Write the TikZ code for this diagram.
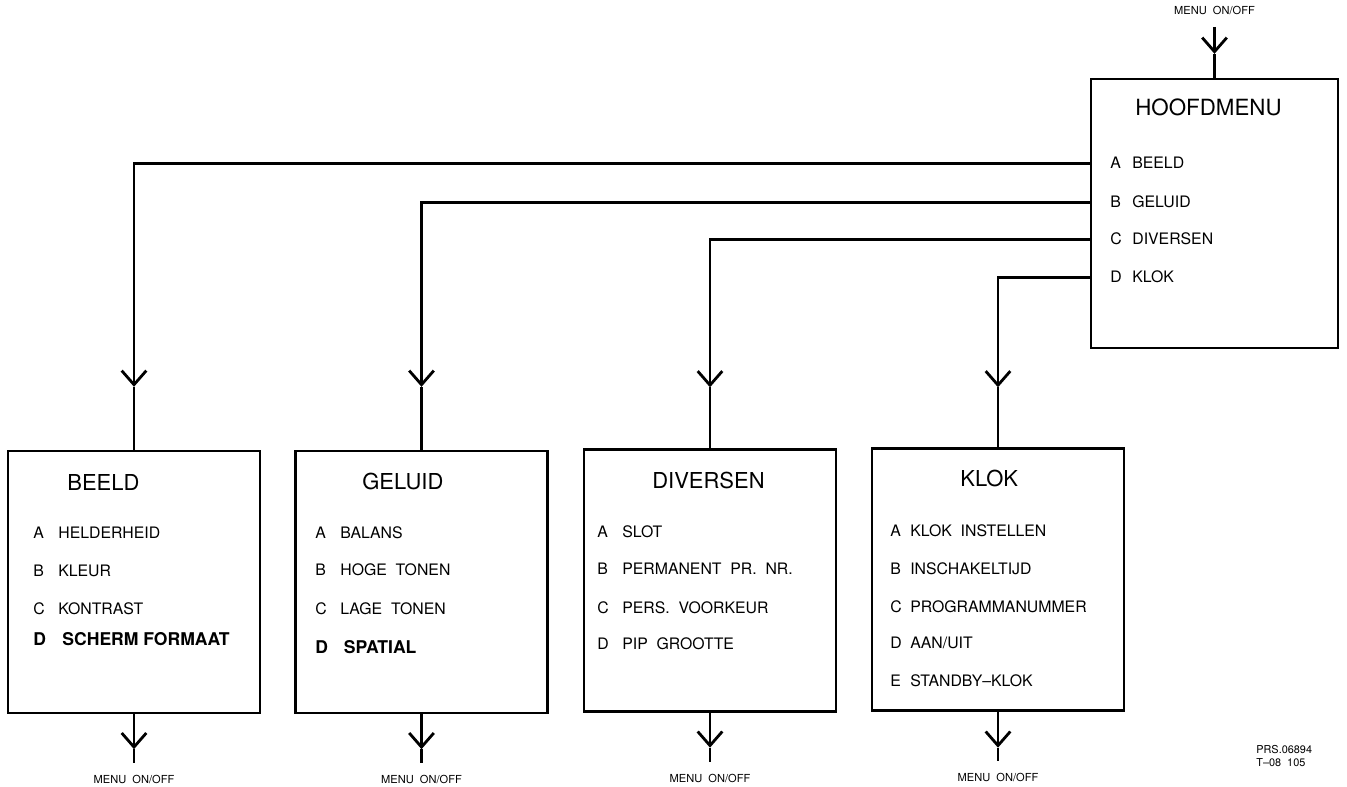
\documentclass[tikz,border=0pt]{standalone}
\usepackage{fontspec}
\setmainfont{TeX Gyre Heros}
\usepackage{tikz}
\usetikzlibrary{positioning, arrows.meta}

\tikzset{
    menubox/.style={draw, line width=1.4pt, minimum width=5.04cm, minimum height=5.24cm, inner sep=0pt},
    link/.style={line width=1.6pt},
    barb/.style={-{Straight Barb[length=8pt, width=14pt]}},
    menutitle/.style={anchor=base west, inner sep=0pt, font=\fontsize{12.5}{14}\selectfont},
    menuitem/.style={anchor=base west, inner sep=0pt, font=\fontsize{9}{11}\selectfont},
    menubold/.style={anchor=base west, inner sep=0pt, font=\fontsize{10}{12}\selectfont\bfseries},
    onoff/.style={inner sep=0pt, font=\fontsize{6.3}{7}\selectfont},
}
\newcommand{\menuopt}[3][0.5cm]{\makebox[#1][l]{#2}#3}

\begin{document}
\begin{tikzpicture}[x=0.02cm, y=-0.02cm]
    \useasboundingbox (0,0) rectangle (1347,787);

    % Hoofdmenu
    \node[menubox, minimum width=4.94cm, minimum height=5.38cm] (hoofd) at (1214.5,213.5) {};
    \node[menutitle, font=\fontsize{12.7}{14}\selectfont] (hoofdT) at (1135,116) {HOOFDMENU};
    \node[menuitem] (hA) at (1110,169) {\menuopt[0.44cm]{A}{BEELD}};
    \node[menuitem] (hB) at (1110,208) {\menuopt[0.44cm]{B}{GELUID}};
    \node[menuitem] (hC) at (1110,245) {\menuopt[0.44cm]{C}{DIVERSEN}};
    \node[menuitem] (hD) at (1110,283) {\menuopt[0.44cm]{D}{KLOK}};

    \node[onoff, above=1.25cm of hoofd] (hoofdOn) {MENU\ \ ON/OFF};
    \coordinate[above=1.02cm of hoofd] (hoofdIn);
    \coordinate[above=0.48cm of hoofd] (hoofdTip);
    \draw[link, barb] (hoofdIn) -- (hoofdTip);
    \draw[link] (hoofdTip) -- (hoofd);

    % Submenu's
    \node[menubox] (beeld) at (134,582) {};
    \node[menutitle] (beeldT) at (67,490.5) {BEELD};
    \node[menuitem] (bA) at (33,539) {\menuopt{A}{HELDERHEID}};
    \node[menuitem] (bB) at (33,577) {\menuopt{B}{KLEUR}};
    \node[menuitem] (bC) at (33,614) {\menuopt{C}{KONTRAST}};
    \node[menubold] (bD) at (33,645) {\menuopt[0.58cm]{D}{SCHERM FORMAAT}};

    \node[menubox] (geluid) at (421.5,582) {};
    \node[menutitle] (geluidT) at (362,490) {GELUID};
    \node[menuitem] (gA) at (315,539) {\menuopt{A}{BALANS}};
    \node[menuitem] (gB) at (315,576) {\menuopt{B}{HOGE\ \ TONEN}};
    \node[menuitem] (gC) at (315,614) {\menuopt{C}{LAGE\ \ TONEN}};
    \node[menubold] (gD) at (315,653) {\menuopt[0.57cm]{D}{SPATIAL}};

    \node[menubox] (diversen) at (710,580.5) {};
    \node[menutitle] (diversenT) at (652,488.5) {DIVERSEN};
    \node[menuitem] (dA) at (597,538) {\menuopt{A}{SLOT}};
    \node[menuitem] (dB) at (597,575) {\menuopt{B}{PERMANENT\ \ PR.\ \ NR.}};
    \node[menuitem] (dC) at (597,613) {\menuopt{C}{PERS.\ \ VOORKEUR}};
    \node[menuitem] (dD) at (597,649) {\menuopt{D}{PIP\ \ GROOTTE}};

    \node[menubox] (klok) at (998,579.5) {};
    \node[menutitle] (klokT) at (960,486.5) {KLOK};
    \node[menuitem] (kA) at (890,537) {\menuopt[0.4cm]{A}{KLOK\ \ INSTELLEN}};
    \node[menuitem] (kB) at (890,574) {\menuopt[0.4cm]{B}{INSCHAKELTIJD}};
    \node[menuitem] (kC) at (890,612) {\menuopt[0.4cm]{C}{PROGRAMMANUMMER}};
    \node[menuitem] (kD) at (890,648) {\menuopt[0.4cm]{D}{AAN/UIT}};
    \node[menuitem] (kE) at (890,686) {\menuopt[0.4cm]{E}{STANDBY--KLOK}};

    % Verbindingen vanuit hoofdmenu
    \coordinate[above=1.26cm of beeld] (beeldTip);
    \coordinate[above=1.26cm of geluid] (geluidTip);
    \coordinate[above=1.22cm of diversen] (diversenTip);
    \coordinate[above=1.2cm of klok] (klokTip);

    \draw[link, barb] (hoofd.west |- hA) -| (beeldTip);
    \draw[link] (beeldTip) -- (beeld);
    \draw[link, barb] (hoofd.west |- hB) -| (geluidTip);
    \draw[link] (geluidTip) -- (geluid);
    \draw[link, barb] (hoofd.west |- hC) -| (diversenTip);
    \draw[link] (diversenTip) -- (diversen);
    \draw[link, barb] (hoofd.west |- hD) -| (klokTip);
    \draw[link] (klokTip) -- (klok);

    % Menu on/off onder
    \coordinate[below=0.7cm of beeld] (beeldOut);
    \coordinate[below=0.98cm of beeld] (beeldEnd);
    \node[onoff, below=1.22cm of beeld] (beeldOff) {MENU\ \ ON/OFF};
    \draw[link, barb] (beeld) -- (beeldOut);
    \draw[link] (beeldOut) -- (beeldEnd);

    \coordinate[below=0.7cm of geluid] (geluidOut);
    \coordinate[below=0.98cm of geluid] (geluidEnd);
    \node[onoff, below=1.22cm of geluid] (geluidOff) {MENU\ \ ON/OFF};
    \draw[link, barb] (geluid) -- (geluidOut);
    \draw[link] (geluidOut) -- (geluidEnd);

    \coordinate[below=0.7cm of diversen] (diversenOut);
    \coordinate[below=0.98cm of diversen] (diversenEnd);
    \node[onoff, below=1.22cm of diversen] (diversenOff) {MENU\ \ ON/OFF};
    \draw[link, barb] (diversen) -- (diversenOut);
    \draw[link] (diversenOut) -- (diversenEnd);

    \coordinate[below=0.72cm of klok] (klokOut);
    \coordinate[below=0.98cm of klok] (klokEnd);
    \node[onoff, below=1.22cm of klok] (klokOff) {MENU\ \ ON/OFF};
    \draw[link, barb] (klok) -- (klokOut);
    \draw[link] (klokOut) -- (klokEnd);

    \node[anchor=north west, align=left, inner sep=0pt, font=\fontsize{6.2}{7.4}\selectfont] (prs) at (1256,745) {PRS.06894\\T--08\ \ 105};
\end{tikzpicture}
\end{document}
